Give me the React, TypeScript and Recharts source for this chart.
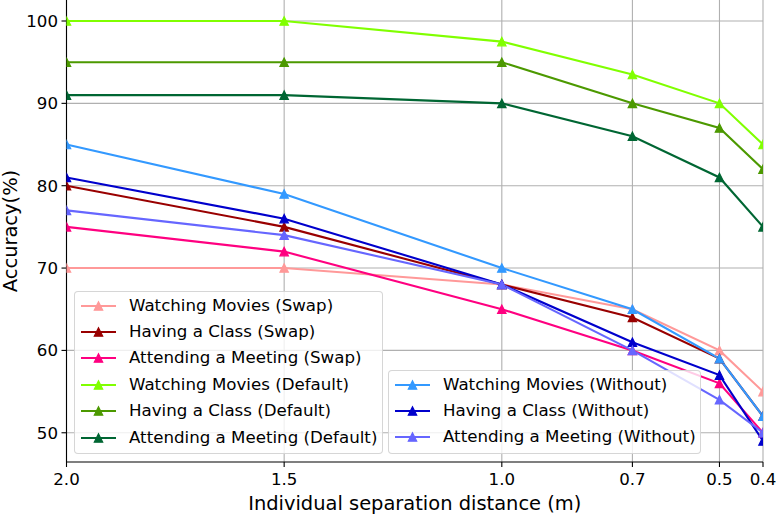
import React from "react";
import {
  LineChart,
  Line,
  XAxis,
  YAxis,
  CartesianGrid,
  Legend,
  Label,
} from "recharts";

const distances = [2.0, 1.5, 1.0, 0.7, 0.5, 0.4];
const xTicks = [2.0, 1.5, 1.0, 0.7, 0.5, 0.4];
const yTicks = [50, 60, 70, 80, 90, 100];

const wmSwap = [70, 70, 68, 65, 60, 55];
const hcSwap = [80, 75, 68, 64, 59, 52];
const amSwap = [75, 72, 65, 60, 56, 50];
const wmDefault = [100, 100, 97.5, 93.5, 90, 85];
const hcDefault = [95, 95, 95, 90, 87, 82];
const amDefault = [91, 91, 90, 86, 81, 75];
const wmWithout = [85, 79, 70, 65, 59, 52];
const hcWithout = [81, 76, 68, 61, 57, 49];
const amWithout = [77, 74, 68, 60, 54, 50];

const seriesNames = [
  "Watching Movies (Swap)",
  "Having a Class (Swap)",
  "Attending a Meeting (Swap)",
  "Watching Movies (Default)",
  "Having a Class (Default)",
  "Attending a Meeting (Default)",
  "Watching Movies (Without)",
  "Having a Class (Without)",
  "Attending a Meeting (Without)",
];
const seriesValues = [
  wmSwap,
  hcSwap,
  amSwap,
  wmDefault,
  hcDefault,
  amDefault,
  wmWithout,
  hcWithout,
  amWithout,
];
const seriesColors = [
  "#ff9999",
  "#990000",
  "#ff0080",
  "#80ff00",
  "#4c9900",
  "#006633",
  "#3399ff",
  "#0000cc",
  "#6666ff",
];

const keys = seriesNames.map((_, i) => `s${i}`);
const data = distances.map((d, j) => {
  const row: Record<string, number> = { d };
  keys.forEach((k, i) => {
    row[k] = seriesValues[i][j];
  });
  return row;
});

const FONT = "'DejaVu Sans', sans-serif";
const TICK_FS = 16.67;
const LABEL_FS = 19.44;

const Triangle = (props: any) => {
  const { cx, cy, stroke } = props;
  if (cx == null || cy == null) return null;
  const h = 4.2;
  return (
    <polygon
      points={`${cx},${cy - h} ${cx - h},${cy + h} ${cx + h},${cy + h}`}
      fill={stroke}
      stroke={stroke}
      strokeWidth={1.2}
      strokeLinejoin="miter"
    />
  );
};

const LegendBox = ({
  left,
  top,
  width,
  height,
  items,
}: {
  left: number;
  top: number;
  width: number;
  height: number;
  items: number[];
}) => (
  <div
    style={{
      position: "absolute",
      left,
      top,
      width,
      height,
      boxSizing: "border-box",
      border: "1px solid rgba(204,204,204,0.8)",
      borderRadius: 4,
      background: "rgba(255,255,255,0.8)",
    }}
  >
    {items.map((idx, r) => {
      const cy = 14 + r * 26.4;
      return (
        <div
          key={idx}
          style={{
            position: "absolute",
            left: 0,
            top: cy - 11,
            height: 22,
            width: width,
          }}
        >
          <svg
            width={40}
            height={22}
            style={{ position: "absolute", left: 5, top: 0 }}
          >
            <line
              x1={1}
              y1={11}
              x2={36}
              y2={11}
              stroke={seriesColors[idx]}
              strokeWidth={2.1}
            />
            <Triangle cx={18.5} cy={11} stroke={seriesColors[idx]} />
          </svg>
          <span
            style={{
              position: "absolute",
              left: 54,
              top: 0,
              lineHeight: "22px",
              fontFamily: FONT,
              fontSize: TICK_FS,
              color: "#000",
              whiteSpace: "nowrap",
            }}
          >
            {seriesNames[idx]}
          </span>
        </div>
      );
    })}
  </div>
);

const renderLegend = () => (
  <div style={{ position: "relative", width: 0, height: 0 }}>
    <LegendBox left={74} top={290.5} width={308.5} height={163} items={[0, 1, 2, 3, 4, 5]} />
    <LegendBox left={388} top={369.5} width={312.5} height={84} items={[6, 7, 8]} />
  </div>
);

const XLabel = (props: any) => {
  const vb = props.viewBox || {};
  const cx = (vb.x ?? 66.5) + (vb.width ?? 696.5) / 2;
  return (
    <text
      x={cx}
      y={503}
      textAnchor="middle"
      dominantBaseline="central"
      fill="#000"
      fontSize={LABEL_FS}
      fontFamily={FONT}
    >
      Individual separation distance (m)
    </text>
  );
};

const YLabel = (props: any) => {
  const vb = props.viewBox || {};
  const cy = (vb.y ?? 0) + (vb.height ?? 462) / 2;
  return (
    <text
      x={10}
      y={cy}
      transform={`rotate(-90 10 ${cy})`}
      textAnchor="middle"
      dominantBaseline="central"
      fill="#000"
      fontSize={LABEL_FS}
      fontFamily={FONT}
    >
      Accuracy(%)
    </text>
  );
};

export default function App() {
  return (
    <div style={{ position: "absolute", left: 0, top: 0, width: 776, height: 514, background: "#fff" }}>
      <LineChart
        width={776}
        height={514}
        data={data}
        margin={{ top: 0, right: 13, left: 0, bottom: 0 }}
      >
        <CartesianGrid
          stroke="#b0b0b0"
          strokeWidth={1.1}
          vertical
          horizontal
          verticalValues={xTicks}
          horizontalValues={yTicks}
        />
        <XAxis
          dataKey="d"
          type="number"
          domain={[0.4, 2.0]}
          reversed
          ticks={xTicks}
          interval={0}
          allowDataOverflow
          tickFormatter={(v: number) => v.toFixed(1)}
          height={52}
          stroke="#000"
          tickLine={{ stroke: "#000", strokeWidth: 1.1 }}
          axisLine={{ stroke: "#000", strokeWidth: 1.1 }}
          tickSize={5}
          tickMargin={6}
          tick={{ fill: "#000", fontSize: TICK_FS, fontFamily: FONT }}
        >
          <Label content={<XLabel />} />
        </XAxis>
        <XAxis
          xAxisId="top"
          dataKey="d"
          type="number"
          domain={[0.4, 2.0]}
          reversed
          orientation="top"
          height={0}
          tick={false}
          tickLine={false}
          axisLine={{ stroke: "#000", strokeWidth: 1.5 }}
        />
        <YAxis
          type="number"
          domain={[46.45, 102.55]}
          ticks={yTicks}
          interval={0}
          allowDataOverflow
          width={66.5}
          stroke="#000"
          tickLine={{ stroke: "#000", strokeWidth: 1.1 }}
          axisLine={{ stroke: "#000", strokeWidth: 1.1 }}
          tickSize={5}
          tickMargin={3.5}
          tick={{ fill: "#000", fontSize: TICK_FS, fontFamily: FONT }}
        >
          <Label content={<YLabel />} />
        </YAxis>
        <YAxis
          yAxisId="right"
          orientation="right"
          domain={[46.45, 102.55]}
          width={0}
          tick={false}
          tickLine={false}
          axisLine={{ stroke: "#000", strokeWidth: 1.1 }}
        />
        {keys.map((k, i) => (
          <Line
            key={k}
            dataKey={k}
            name={seriesNames[i]}
            stroke={seriesColors[i]}
            strokeWidth={2.1}
            dot={<Triangle />}
            activeDot={false}
            isAnimationActive={false}
          />
        ))}
        <Legend
          content={renderLegend}
          wrapperStyle={{ position: "absolute", left: 0, top: 0, width: 0, height: 0 }}
        />
      </LineChart>
    </div>
  );
}
